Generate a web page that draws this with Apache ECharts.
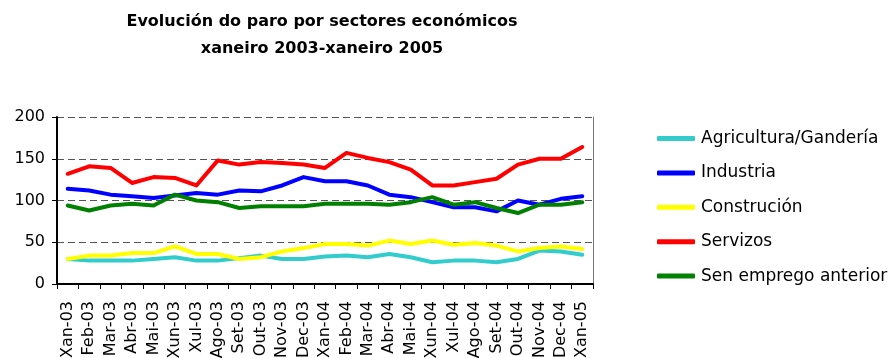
<!DOCTYPE html>
<html>
<head>
<meta charset="utf-8">
<script src="https://cdn.jsdelivr.net/npm/echarts@6/dist/echarts.min.js"></script>
<style>
  html, body { margin: 0; padding: 0; background: #fff; }
  #chart { width: 891px; height: 358px; }
</style>
</head>
<body>
<div id="chart"></div>
<script>
// Meses (xaneiro 2003 - xaneiro 2005)
const months = [
  "Xan-03", "Feb-03", "Mar-03", "Abr-03", "Mai-03", "Xun-03", "Xul-03",
  "Ago-03", "Set-03", "Out-03", "Nov-03", "Dec-03", "Xan-04", "Feb-04",
  "Mar-04", "Abr-04", "Mai-04", "Xun-04", "Xul-04", "Ago-04", "Set-04",
  "Out-04", "Nov-04", "Dec-04", "Xan-05"
];

// Valores
const agricultura = [30, 28, 28, 28, 30, 32, 28, 28, 31, 34, 30, 30, 33, 34, 32, 36, 32, 26, 28, 28, 26, 30, 40, 39, 35];
const industria = [114, 112, 107, 105, 103, 106, 109, 107, 112, 111, 118, 128, 123, 123, 118, 107, 104, 98, 92, 92, 87, 100, 95, 102, 105];
const construcion = [30, 34, 34, 37, 37, 45, 36, 36, 30, 32, 39, 43, 48, 48, 46, 52, 48, 52, 47, 49, 46, 39, 43, 45, 42];
const servizos = [132, 141, 139, 121, 128, 127, 118, 148, 143, 146, 145, 143, 139, 157, 151, 146, 137, 118, 118, 122, 126, 143, 150, 150, 164];
const senEmprego = [94, 88, 94, 96, 94, 107, 100, 98, 91, 93, 93, 93, 96, 96, 96, 95, 98, 104, 95, 98, 91, 85, 95, 95, 98];

const yTicks = [0, 50, 100, 150, 200];

const COLORS = {
  agricultura: "#33CCCC",
  industria: "#0000FF",
  construcion: "#FFFF00",
  servizos: "#FF0000",
  senEmprego: "#008000",
};

const FONT = "DejaVu Sans";

const makeSeries = (name, data, color) => ({
  name,
  type: "line",
  data,
  symbol: "none",
  smooth: false,
  color,
  lineStyle: { color, width: 4, cap: "round", join: "round" },
  emphasis: { disabled: true },
});

const chart = echarts.init(document.getElementById("chart"));

chart.setOption({
  animation: false,
  textStyle: { fontFamily: FONT, color: "#000" },
  title: {
    text: "Evolución do paro por sectores económicos\nxaneiro 2003-xaneiro 2005",
    left: 317,
    top: 3,
    textAlign: "center",
    textStyle: {
      fontFamily: FONT,
      fontSize: 16,
      fontWeight: "bold",
      color: "#000",
      lineHeight: 27,
    },
  },
  legend: {
    orient: "vertical",
    left: 657,
    top: 130,
    padding: 0,
    itemWidth: 38,
    itemHeight: 5,
    itemGap: 17.4,
    icon: "roundRect",
    textStyle: { fontFamily: FONT, fontSize: 17, color: "#000", padding: [0, 0, 0, 1] },
    data: ["Agricultura/Gandería", "Industria", "Construción", "Servizos", "Sen emprego anterior"],
  },
  grid: {
    left: 57,
    right: 298,
    top: 117,
    bottom: 74,
    containLabel: false,
    outerBoundsMode: "none",
  },
  xAxis: {
    type: "category",
    data: months,
    boundaryGap: true,
    axisLine: { lineStyle: { color: "#000", width: 2 } },
    axisTick: { show: true, length: 5, lineStyle: { color: "#000", width: 1 } },
    axisLabel: {
      interval: 0,
      rotate: 90,
      fontSize: 16,
      margin: 17,
      color: "#000",
      fontFamily: FONT,
    },
    splitLine: { show: false },
  },
  yAxis: [
    {
      type: "value",
      min: yTicks[0],
      max: yTicks[yTicks.length - 1],
      interval: 50,
      axisLine: { show: true, lineStyle: { color: "#000", width: 2 } },
      axisTick: { show: true, length: 5, lineStyle: { color: "#000" } },
      axisLabel: { fontSize: 16, margin: 12, color: "#000", fontFamily: FONT },
      splitLine: {
        show: true,
        lineStyle: { color: "#555", width: 1, type: [7, 4] },
      },
    },
    {
      type: "value",
      position: "right",
      min: yTicks[0],
      max: yTicks[yTicks.length - 1],
      interval: 50,
      axisLine: { show: true, lineStyle: { color: "#777", width: 1 } },
      axisTick: { show: false },
      axisLabel: { show: false },
      splitLine: { show: false },
    },
  ],
  series: [
    makeSeries("Agricultura/Gandería", agricultura, COLORS.agricultura),
    makeSeries("Industria", industria, COLORS.industria),
    makeSeries("Construción", construcion, COLORS.construcion),
    makeSeries("Servizos", servizos, COLORS.servizos),
    makeSeries("Sen emprego anterior", senEmprego, COLORS.senEmprego),
  ],
});
</script>
</body>
</html>
